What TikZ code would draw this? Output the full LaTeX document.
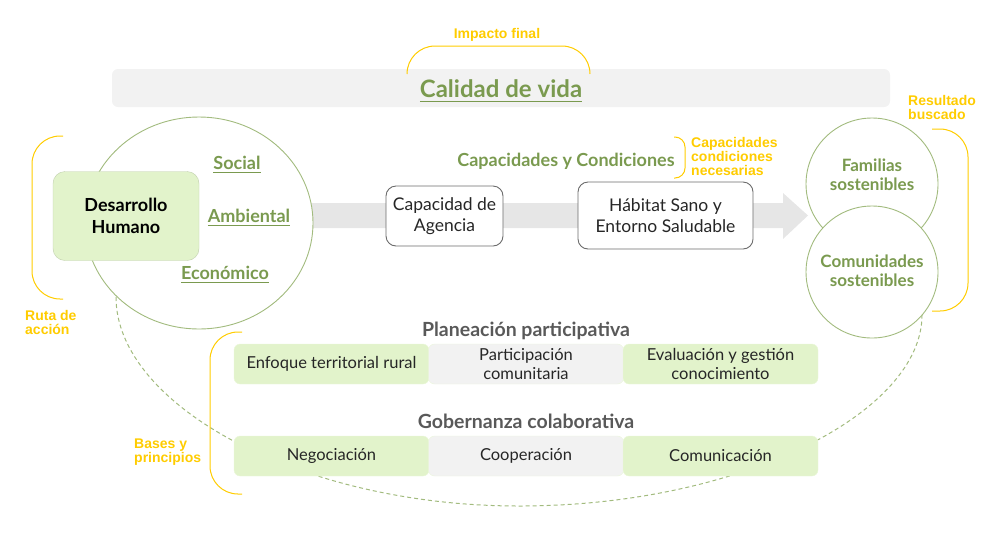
\documentclass[tikz,border=0pt]{standalone}
\usepackage{fontspec}
\setmainfont{Lato}
\newfontfamily\arialfont{Liberation Sans}
\newcommand{\subrayar}[1]{\setbox0\hbox{#1}\leavevmode\rlap{\rule[-0.2em]{\wd0}{1.5pt}}\box0}

\definecolor{verdeTexto}{HTML}{7A9A4F}
\definecolor{verdeLinea}{HTML}{A2BB7E}
\definecolor{verdeCaja}{HTML}{E2F3CB}
\definecolor{grisCaja}{HTML}{F2F2F2}
\definecolor{grisTitulo}{HTML}{595959}
\definecolor{grisBorde}{HTML}{6B6B6B}
\definecolor{amarillo}{HTML}{FFCC00}

\tikzset{
    etiqueta/.style={text=amarillo, font=\arialfont\bfseries\fontsize{14}{14}\selectfont, align=left, inner sep=0pt},
    llave/.style={draw=amarillo, line width=1pt, rounded corners=28pt},
    dimension/.style={text=verdeTexto, font=\bfseries\fontsize{18}{21}\selectfont},
    tituloFila/.style={text=grisTitulo, font=\bfseries\fontsize{19.5}{23}\selectfont},
    caja/.style={rounded corners=6pt, minimum width=195pt, minimum height=40pt, inner sep=0pt, align=center, text=black!85, font=\fontsize{16.5}{19.5}\selectfont},
    cajaVerde/.style={caja, fill=verdeCaja, draw=verdeCaja!70!white},
    cajaGris/.style={caja, fill=grisCaja, draw=verdeCaja!70!white},
    cajaBlanca/.style={draw=grisBorde, line width=0.9pt, fill=white, rounded corners=10pt, align=center, inner sep=0pt, text=black!85, font=\fontsize{17.5}{21.5}\selectfont},
    resultado/.style={circle, draw=verdeLinea, line width=0.9pt, fill=white, minimum size=132pt, inner sep=0pt},
    resultadoTexto/.style={align=center, text=verdeTexto, font=\bfseries\fontsize{17}{19.5}\selectfont},
}

\begin{document}
\begin{tikzpicture}[x=1pt, y=-1pt]
    \useasboundingbox (0,0) rectangle (1000,550);

    % ruta punteada
    \draw[verdeLinea, line width=1pt, dash pattern=on 4pt off 3pt] (116,297) .. controls (116,405) and (300,506) .. (519,506) .. controls (742,506) and (922,412) .. (922,315);

    % franja superior
    \fill[grisCaja, rounded corners=6pt] (112,69) rectangle (890,107);
    \node[text=verdeTexto, font=\bfseries\fontsize{24}{28}\selectfont] (calidad) at (501,91) {\subrayar{Calidad de vida}};
    \draw[llave] (407,74) -- (407,46) -- (590,46) -- (590,74);
    \node[etiqueta] (impacto) at (497,35) {Impacto final};

    % flecha gris
    \fill[grisCaja!95!black] (300,203) -- (783,203) -- (783,193) -- (808,215.5) -- (783,239) -- (783,228) -- (300,228) -- cycle;

    % desarrollo humano
    \draw[verdeLinea, line width=0.9pt, fill=white] (199,223) ellipse[x radius=114, y radius=106];
    \node[fill=verdeCaja, draw=verdeCaja!85!black, rounded corners=12pt, minimum width=146pt, minimum height=89pt, align=center, font=\bfseries\fontsize{18}{22}\selectfont] (desarrollo) at (126,216) {Desarrollo\\Humano};
    \node[dimension] (social) at (237,165) {\subrayar{Social}};
    \node[dimension] (ambiental) at (249,218) {\subrayar{Ambiental}};
    \node[dimension] (economico) at (225,275) {\subrayar{Económico}};
    \draw[llave] (63,136) -- (32,136) -- (32,299) -- (63,299);
    \node[etiqueta, anchor=north west] (ruta) at (25,310) {Ruta de\\acción};

    % capacidades
    \node[text=verdeTexto, font=\bfseries\fontsize{18}{21}\selectfont] (capacidades) at (566,161) {Capacidades y Condiciones};
    \draw[draw=amarillo, line width=1pt, rounded corners=10pt] (674,137) -- (685,137) -- (685,178) -- (674,178);
    \node[etiqueta, anchor=north west] (necesarias) at (691,137) {Capacidades\\condiciones\\necesarias};
    \node[cajaBlanca, minimum width=117pt, minimum height=60pt] (agencia) at (444.5,216) {Capacidad de\\Agencia};
    \node[cajaBlanca, minimum width=175pt, minimum height=67pt] (habitat) at (665.5,215.5) {Hábitat Sano y\\Entorno Saludable};

    % resultados
    \node[resultado] (familias) at (872,184) {};
    \node[resultadoTexto] (familiasTexto) at (872,174.5) {Familias\\sostenibles};
    \node[resultado] (comunidades) at (872,272) {};
    \node[resultadoTexto] (comunidadesTexto) at (872,270.5) {Comunidades\\sostenibles};
    \draw[llave] (932,129) -- (968,129) -- (968,311) -- (932,311);
    \node[etiqueta, anchor=north west] (buscado) at (908,95) {Resultado\\buscado};

    % bases y principios
    \node[tituloFila] (planeacion) at (526,331) {Planeación participativa};
    \node[cajaVerde] (enfoque) at (331.5,364) {Enfoque territorial rural};
    \node[cajaGris] (participacion) at (526,364) {Participación\\comunitaria};
    \node[cajaVerde] (evaluacion) at (720.5,364) {Evaluación y gestión\\conocimiento};
    \node[tituloFila] (gobernanza) at (526,421) {Gobernanza colaborativa};
    \node[cajaVerde] (negociacion) at (331.5,456) {Negociación};
    \node[cajaGris] (cooperacion) at (526,456) {Cooperación};
    \node[cajaVerde] (comunicacion) at (720.5,456) {Comunicación};
    \draw[llave] (242,332) -- (210,332) -- (210,494) -- (242,494);
    \node[etiqueta, anchor=north west] (bases) at (134,439) {Bases y\\principios};
\end{tikzpicture}
\end{document}
